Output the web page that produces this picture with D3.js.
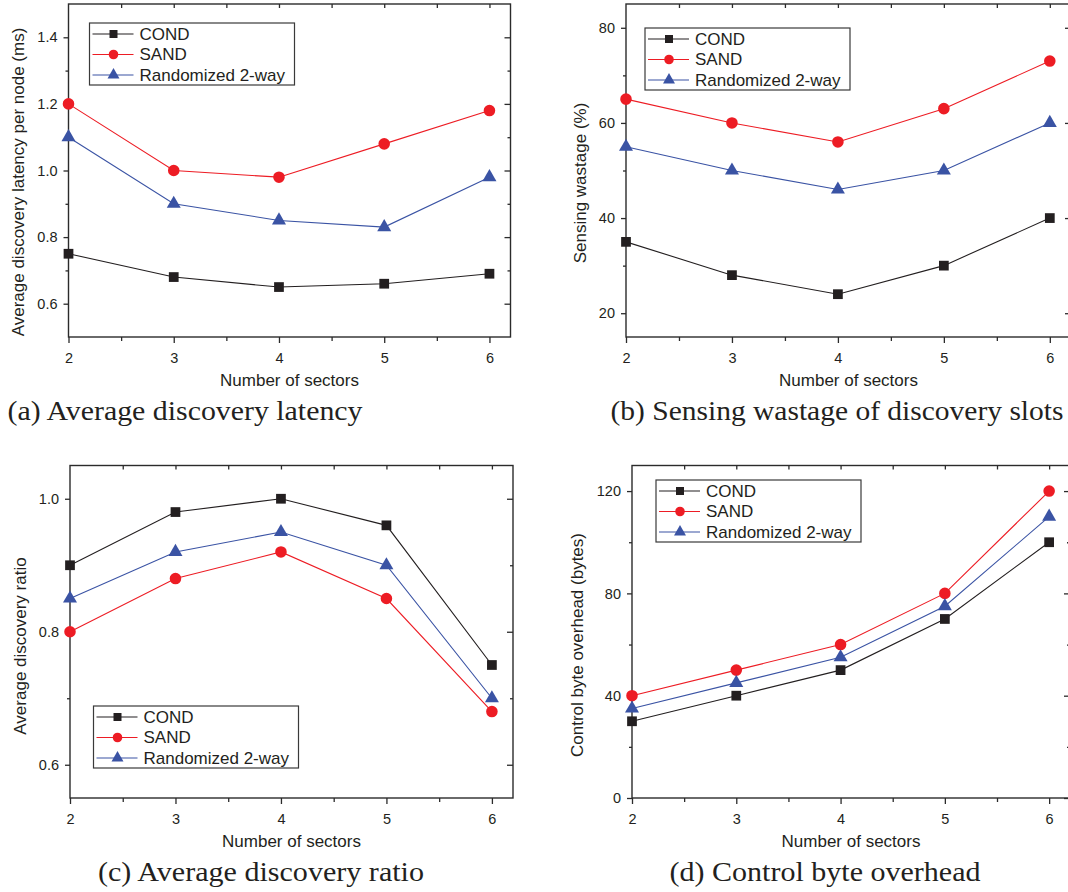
<!DOCTYPE html>
<html>
<head>
<meta charset="utf-8">
<title>Sector-based neighbor discovery</title>
<style>
  body { margin: 0; background: #fff; }
  svg text { font-family: "Liberation Sans", Arial, sans-serif; fill: #231f20; }
  .frame { fill: none; stroke: #2b2b2b; stroke-width: 1.4px; }
  .axis path { display: none; }
  .axis line { stroke: #2b2b2b; stroke-width: 1.3px; }
  .axis text { font-size: 14.5px; fill: #231f20; }
  .title { font-size: 17px; }
  .caption { font-family: "Liberation Serif", serif; font-size: 28px; }
  .legend rect { fill: #fff; stroke: #3a3a3a; stroke-width: 1.2px; }
  .legend text { font-size: 17px; }
  .line { fill: none; stroke-width: 1.1px; }
</style>
</head>
<body>
<svg width="1068" height="892"></svg>
<script src="https://cdn.jsdelivr.net/npm/d3@7"></script>
<script>

// x values shared by every panel
var sectors = [2, 3, 4, 5, 6];
var seriesNames = ["COND", "SAND", "Randomized 2-way"];

// (a) average discovery latency per node (ms)
var latencyCond = [0.75, 0.68, 0.65, 0.66, 0.69];
var latencySand = [1.20, 1.00, 0.98, 1.08, 1.18];
var latencyRand = [1.10, 0.90, 0.85, 0.83, 0.98];
var latencyTicks = [0.6, 0.8, 1.0, 1.2, 1.4];

// (b) sensing wastage (%)
var wastageCond = [35, 28, 24, 30, 40];
var wastageSand = [65, 60, 56, 63, 73];
var wastageRand = [55, 50, 46, 50, 60];
var wastageTicks = [20, 40, 60, 80];

// (c) average discovery ratio
var ratioCond = [0.90, 0.98, 1.00, 0.96, 0.75];
var ratioSand = [0.80, 0.88, 0.92, 0.85, 0.68];
var ratioRand = [0.85, 0.92, 0.95, 0.90, 0.70];
var ratioTicks = [0.6, 0.8, 1.0];

// (d) control byte overhead (bytes)
var overheadCond = [30, 40, 50, 70, 100];
var overheadSand = [40, 50, 60, 80, 120];
var overheadRand = [35, 45, 55, 75, 110];
var overheadTicks = [0, 40, 80, 120];

var colors = ["#231f20", "#ed1c24", "#3a53a4"];
var symbols = [d3.symbolSquare, d3.symbolCircle, d3.symbolTriangle];
var symbolSize = [95, 105, 85];
var legendSymbolSize = [64, 72, 62];

var svg = d3.select("svg");

var panels = [
  { series: [latencyCond, latencySand, latencyRand], yTicks: latencyTicks, yDomain: [0.5, 1.5], step: 0.1, fmt: ".1f",
    left: 68.5, right: 510.5, top: 4, bottom: 337,
    ytitle: "Average discovery latency per node (ms)", ytx: 18.5, yty: 182,
    caption: "(a) Average discovery latency", cx: 185, cw: 355,
    legend: [89.5, 23] },
  { series: [wastageCond, wastageSand, wastageRand], yTicks: wastageTicks, yDomain: [15, 85], step: 10, fmt: "d",
    left: 626, right: 1071, top: 4, bottom: 337,
    ytitle: "Sensing wastage (%)", ytx: 580, yty: 183,
    caption: "(b) Sensing wastage of discovery slots", cx: 837, cw: 453,
    legend: [645, 28] },
  { series: [ratioCond, ratioSand, ratioRand], yTicks: ratioTicks, yDomain: [0.55, 1.05], step: 0.1, fmt: ".1f",
    left: 70, right: 513, top: 465.5, bottom: 798,
    ytitle: "Average discovery ratio", ytx: 20, yty: 646,
    caption: "(c) Average discovery ratio", cx: 261, cw: 326,
    legend: [93.5, 706] },
  { series: [overheadCond, overheadSand, overheadRand], yTicks: overheadTicks, yDomain: [0, 130], step: 20, fmt: "d",
    left: 632, right: 1070, top: 465.5, bottom: 798,
    ytitle: "Control byte overhead (bytes)", ytx: 577.5, yty: 645,
    caption: "(d) Control byte overhead", cx: 825, cw: 311,
    legend: [656, 480] }
];

panels.forEach(drawPanel);

function drawPanel(p) {
  var x = d3.scaleLinear().domain([2, 6.2]).range([p.left, p.right]);
  var y = d3.scaleLinear().domain(p.yDomain).range([p.bottom, p.top]);
  var g = svg.append("g");

  // minor tick values in between the labelled ones
  var yMinor = p.yTicks.map(function(v) { return v + p.step; })
      .concat([p.yTicks[0] - p.step])
      .filter(function(v) { return v > p.yDomain[0] && v < p.yDomain[1]; });
  var xMinor = [2.5, 3.5, 4.5, 5.5];
  var xAll = [2.5, 3, 3.5, 4, 4.5, 5, 5.5, 6];

  // bottom, outward
  g.append("g").attr("class", "axis").attr("transform", "translate(0," + p.bottom + ")")
      .call(d3.axisBottom(x).tickValues(sectors).tickSize(6).tickPadding(10).tickFormat(d3.format("d")));
  g.append("g").attr("class", "axis").attr("transform", "translate(0," + p.bottom + ")")
      .call(d3.axisBottom(x).tickValues(xMinor).tickSize(4).tickFormat(""));
  // top, inward
  g.append("g").attr("class", "axis").attr("transform", "translate(0," + p.top + ")")
      .call(d3.axisBottom(x).tickValues(xAll).tickSize(4).tickFormat(""));
  // left, outward
  g.append("g").attr("class", "axis").attr("transform", "translate(" + p.left + ",0)")
      .call(d3.axisLeft(y).tickValues(p.yTicks).tickSize(5).tickPadding(6).tickFormat(d3.format(p.fmt)));
  g.append("g").attr("class", "axis").attr("transform", "translate(" + p.left + ",0)")
      .call(d3.axisLeft(y).tickValues(yMinor).tickSize(3).tickFormat(""));
  // right, inward
  g.append("g").attr("class", "axis").attr("transform", "translate(" + p.right + ",0)")
      .call(d3.axisLeft(y).tickValues(p.yTicks).tickSize(6).tickFormat(""));
  g.append("g").attr("class", "axis").attr("transform", "translate(" + p.right + ",0)")
      .call(d3.axisLeft(y).tickValues(yMinor).tickSize(3).tickFormat(""));

  g.append("rect").attr("class", "frame")
      .attr("x", p.left).attr("y", p.top)
      .attr("width", p.right - p.left).attr("height", p.bottom - p.top);

  var line = d3.line().x(function(d) { return x(d[0]); }).y(function(d) { return y(d[1]); });

  p.series.forEach(function(vals, i) {
    var pts = sectors.map(function(s, k) { return [s, vals[k]]; });
    g.append("path").attr("class", "line").attr("stroke", colors[i]).attr("d", line(pts));
    g.selectAll(null).data(pts).enter().append("path")
        .attr("transform", function(d) { return "translate(" + x(d[0]) + "," + y(d[1]) + ")"; })
        .attr("d", d3.symbol().type(symbols[i]).size(symbolSize[i]))
        .attr("fill", colors[i]);
  });

  // titles
  g.append("text").attr("class", "title")
      .attr("x", (p.left + p.right) / 2).attr("y", p.bottom + 49)
      .attr("text-anchor", "middle").text("Number of sectors");
  g.append("text").attr("class", "title")
      .attr("transform", "translate(" + p.ytx + "," + p.yty + ") rotate(-90)")
      .attr("dy", "0.35em").attr("text-anchor", "middle").text(p.ytitle);
  g.append("text").attr("class", "caption")
      .attr("x", p.cx).attr("y", p.bottom + 83)
      .attr("text-anchor", "middle")
      .attr("textLength", p.cw).attr("lengthAdjust", "spacingAndGlyphs")
      .text(p.caption);

  // legend
  var lg = g.append("g").attr("class", "legend")
      .attr("transform", "translate(" + p.legend[0] + "," + p.legend[1] + ")");
  lg.append("rect").attr("width", 205).attr("height", 62);
  seriesNames.forEach(function(name, i) {
    var ry = 11 + i * 20.5;
    lg.append("line").attr("x1", 3).attr("x2", 44).attr("y1", ry).attr("y2", ry)
        .attr("stroke", colors[i]).attr("stroke-width", 1.1);
    lg.append("path").attr("transform", "translate(24," + ry + ")")
        .attr("d", d3.symbol().type(symbols[i]).size(legendSymbolSize[i]))
        .attr("fill", colors[i]);
    lg.append("text").attr("x", 50).attr("y", ry).attr("dy", "0.35em").text(name);
  });
}

</script>
</body>
</html>
